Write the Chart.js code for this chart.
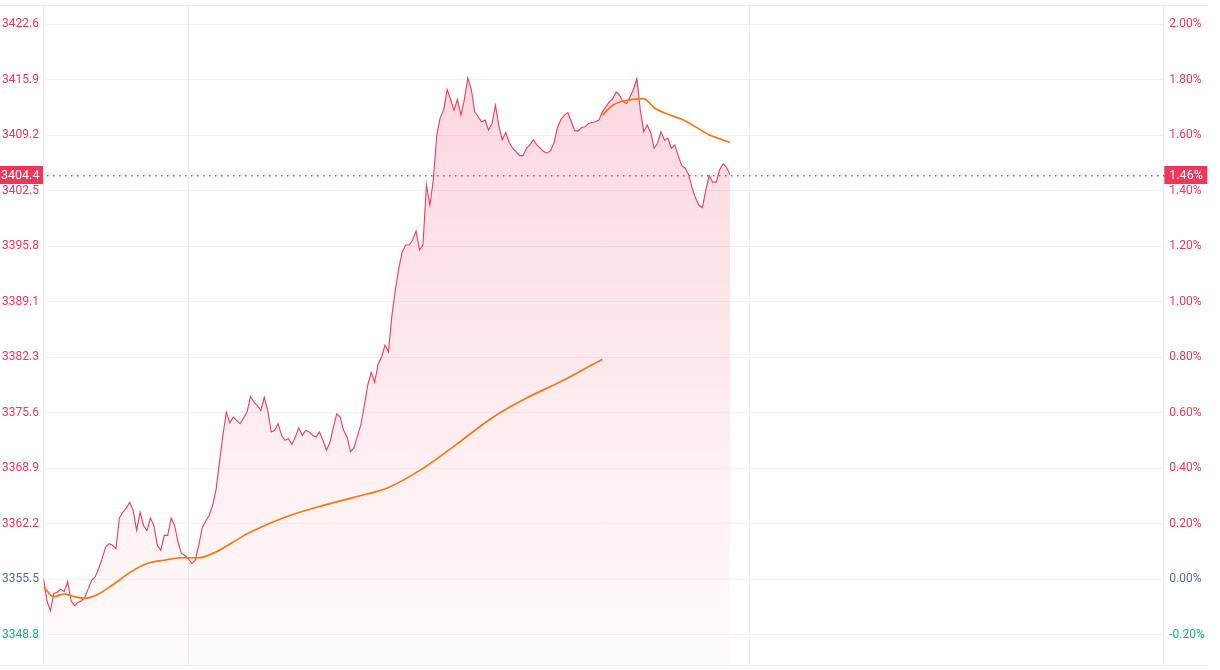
<!DOCTYPE html>
<html>
<head>
<meta charset="utf-8">
<script src="https://cdn.jsdelivr.net/npm/chart.js@4.4.1/dist/chart.umd.min.js"></script>
<style>
  html, body { margin: 0; padding: 0; background: #fff; }
  #wrap { width: 1220px; height: 670px; position: relative; }
</style>
</head>
<body>
<div id="wrap"><canvas id="chartDiv"></canvas></div>
<script>
const prevClose = 3355.5
const lastPrice = 3404.4
// tick steps, each one is 0.2% off the previous close
const tickSteps = [-1, 0, 1, 2, 3, 4, 5, 6, 7, 8, 9, 10]
const timeGrid = [0, 42.1, 204.6, 324.6]

const prices = [
  3355.6, 3352.9, 3351.7, 3353.8, 3353.9, 3354.3, 3354.0, 3355.2, 3352.9, 3352.3,
  3352.7, 3352.9, 3353.3, 3354.4, 3355.4, 3355.8, 3356.8, 3358.0, 3359.4, 3359.8,
  3359.6, 3359.2, 3362.9, 3363.6, 3364.1, 3364.8, 3363.8, 3361.4, 3363.6, 3362.0,
  3361.4, 3362.9, 3362.0, 3359.6, 3359.0, 3360.8, 3360.8, 3362.9, 3362.0, 3360.0,
  3358.6, 3358.4, 3358.0, 3357.4, 3357.8, 3359.6, 3361.7, 3362.5, 3363.2, 3364.4,
  3366.3, 3369.6, 3372.9, 3375.7, 3374.4, 3375.1, 3374.7, 3374.3, 3375.0, 3375.7,
  3377.6, 3376.9, 3376.5, 3375.9, 3377.5, 3375.9, 3373.3, 3373.5, 3374.3, 3372.9,
  3372.3, 3372.5, 3371.8, 3372.7, 3373.8, 3372.9, 3373.5, 3373.3, 3372.9, 3372.7,
  3373.3, 3372.3, 3371.1, 3372.0, 3373.8, 3375.5, 3375.1, 3373.5, 3372.7, 3370.9,
  3371.4, 3372.8, 3374.2, 3376.5, 3379.0, 3380.5, 3379.3, 3381.5, 3382.4, 3383.8,
  3383.0, 3387.4, 3390.5, 3393.1, 3395.1, 3395.9, 3395.9, 3396.5, 3397.6, 3395.3,
  3395.9, 3403.2, 3400.7, 3403.8, 3409.2, 3411.3, 3412.2, 3414.7, 3413.5, 3412.2,
  3413.5, 3411.6, 3413.5, 3416.1, 3414.7, 3412.0, 3411.4, 3410.8, 3411.0, 3409.8,
  3410.6, 3412.8, 3410.3, 3408.6, 3409.5, 3408.3, 3407.6, 3407.2, 3406.7, 3406.7,
  3407.6, 3408.0, 3408.6, 3408.0, 3407.6, 3407.2, 3407.0, 3407.3, 3408.3, 3410.1,
  3411.1, 3411.6, 3411.9, 3410.8, 3409.7, 3409.7, 3410.1, 3410.2, 3410.6, 3410.7,
  3410.8, 3411.0, 3412.0, 3412.6, 3413.2, 3413.6, 3414.4, 3414.0, 3413.2, 3413.0,
  3413.8, 3414.7, 3416.0, 3412.2, 3409.6, 3410.4, 3409.5, 3407.6, 3408.2, 3409.6,
  3408.6, 3408.8, 3407.6, 3408.0, 3406.7, 3405.5, 3405.2, 3404.4, 3402.8, 3401.6,
  3400.7, 3400.4, 3402.6, 3404.3, 3403.5, 3403.5, 3405.0, 3405.7, 3405.3, 3404.4
]

// average price line, drawn in two pieces
const avgIdxA = [0, 3, 6, 9, 12, 15, 20, 25, 30, 35, 40, 45, 50, 55, 60, 70, 80, 90, 100, 110, 120, 130, 140, 150, 162]
const avgValA = [3354.6, 3353.4, 3353.7, 3353.4, 3353.2, 3353.5, 3354.8, 3356.3, 3357.4, 3357.8, 3358.1, 3358.1, 3358.8, 3360.0, 3361.2, 3363.0, 3364.3, 3365.4, 3366.6, 3368.9, 3371.9, 3375.0, 3377.4, 3379.4, 3382.1]
const avgIdxB = [162, 165, 168, 171, 174, 177, 181, 185, 189, 193, 197, 199]
const avgValB = [3411.6, 3412.8, 3413.3, 3413.5, 3413.6, 3412.5, 3411.7, 3411.1, 3410.2, 3409.2, 3408.6, 3408.3]

const red = '#ef3b5d'
const upColor = '#f0365b'
const flatColor = '#5b6b8c'
const downColor = '#15b37a'

const pctMin = -0.3125
const pctMax = 2.0686

function tickColor(v) {
  if (Math.abs(v) < 1e-9) return flatColor
  return v > 0 ? upColor : downColor
}

function noEdgePadding(scale) {
  scale.paddingTop = 0
  scale.paddingBottom = 0
}

const framePlugin = {
  id: 'frame',
  beforeDraw(chart) {
    const { ctx, chartArea: a } = chart
    ctx.save()
    ctx.strokeStyle = '#ebebeb'
    ctx.lineWidth = 1
    ctx.beginPath()
    ctx.moveTo(0, Math.round(a.top) + 0.5)
    ctx.lineTo(1208, Math.round(a.top) + 0.5)
    ctx.moveTo(0, Math.round(a.bottom) - 0.5)
    ctx.lineTo(1208, Math.round(a.bottom) - 0.5)
    ctx.stroke()
    ctx.restore()
  },
  afterDatasetsDraw(chart) {
    const { ctx, chartArea: a } = chart
    const y = Math.round(chart.scales.y.getPixelForValue(lastPrice))
    ctx.save()
    // dotted price line, little red dots
    ctx.fillStyle = red
    for (let x = Math.round(a.left) + 3; x < a.right; x += 6) {
      ctx.fillRect(x, y, 1.5, 1.5)
    }

    ctx.fillStyle = '#f0375a'
    ctx.fillRect(0, y - 9, 43, 18)
    ctx.fillRect(a.right + 1, y - 9, 43, 18)
    ctx.fillStyle = '#fff'
    ctx.font = '12.5px Roboto, "Noto Sans", sans-serif'
    ctx.textBaseline = 'middle'
    ctx.textAlign = 'left'
    ctx.fillText(lastPrice.toFixed(1), 1, y + 1)
    const pct = (lastPrice / prevClose - 1) * 100
    ctx.fillText(pct.toFixed(2) + '%', a.right + 6, y + 1)
    ctx.restore()
  }
}

const ctx = document.getElementById('chartDiv').getContext('2d')

new Chart(ctx, {
  type: 'line',
  data: {
    datasets: [
      {
        label: 'price',
        data: prices.map((v, i) => ({ x: i, y: v })),
        borderColor: red,
        borderWidth: 1.1,
        pointRadius: 0,
        tension: 0,
        fill: 'start',
        backgroundColor(c) {
          const a = c.chart.chartArea
          if (!a) return 'rgba(239,59,93,0.15)'
          const g = c.chart.ctx.createLinearGradient(0, a.top, 0, a.bottom)
          g.addColorStop(0, 'rgba(239,59,93,0.22)')
          g.addColorStop(1, 'rgba(239,59,93,0.02)')
          return g
        },
        order: 2
      },
      {
        label: 'avg1',
        data: avgIdxA.map((x, i) => ({ x: x, y: avgValA[i] })),
        borderColor: '#f7770f',
        borderWidth: 1.7,
        pointRadius: 0,
        cubicInterpolationMode: 'monotone',
        fill: false,
        order: 1
      },
      {
        label: 'avg2',
        data: avgIdxB.map((x, i) => ({ x: x, y: avgValB[i] })),
        borderColor: '#f7770f',
        borderWidth: 1.7,
        pointRadius: 0,
        cubicInterpolationMode: 'monotone',
        fill: false,
        order: 1
      }
    ]
  },
  options: {
    responsive: true,
    maintainAspectRatio: false,
    animation: false,
    events: [],
    layout: { padding: { left: 2, right: 0, top: 5, bottom: 4 } },
    scales: {
      x: {
        type: 'linear',
        min: timeGrid[0],
        max: timeGrid[timeGrid.length - 1],
        afterBuildTicks(scale) {
          scale.ticks = timeGrid.map(v => ({ value: v }))
        },
        afterFit(scale) {
          scale.height = 0
          scale.paddingLeft = 0
          scale.paddingRight = 0
        },
        ticks: { display: false },
        grid: { color: '#efefef', drawTicks: false },
        border: { display: false }
      },
      y: {
        position: 'left',
        min: prevClose * (1 + pctMin / 100),
        max: prevClose * (1 + pctMax / 100),
        afterBuildTicks(scale) {
          scale.ticks = tickSteps.map(k => ({ value: prevClose * (1 + k * 0.002) }))
        },
        afterFit(scale) {
          scale.width = 41.5
          noEdgePadding(scale)
        },
        ticks: {
          crossAlign: 'far',
          padding: 0,
          font: { size: 12, family: 'Roboto, "Noto Sans", sans-serif' },
          color(c) { return tickColor(c.tick.value - prevClose) },
          callback(v) { return v.toFixed(1) }
        },
        grid: { color: '#f2f2f2', drawTicks: false },
        border: { display: false }
      },
      y2: {
        position: 'right',
        min: pctMin,
        max: pctMax,
        afterBuildTicks(scale) {
          scale.ticks = tickSteps.map(k => ({ value: k * 0.2 }))
        },
        afterFit(scale) {
          scale.width = 56.7
          noEdgePadding(scale)
        },
        ticks: {
          padding: 6,
          font: { size: 12, family: 'Roboto, "Noto Sans", sans-serif' },
          color(c) { return tickColor(c.tick.value) },
          callback(v) { return v.toFixed(2) + '%' }
        },
        grid: { display: false, drawTicks: false },
        border: { display: false }
      }
    },
    plugins: {
      legend: { display: false },
      tooltip: { enabled: false }
    }
  },
  plugins: [framePlugin]
})
</script>
</body>
</html>
